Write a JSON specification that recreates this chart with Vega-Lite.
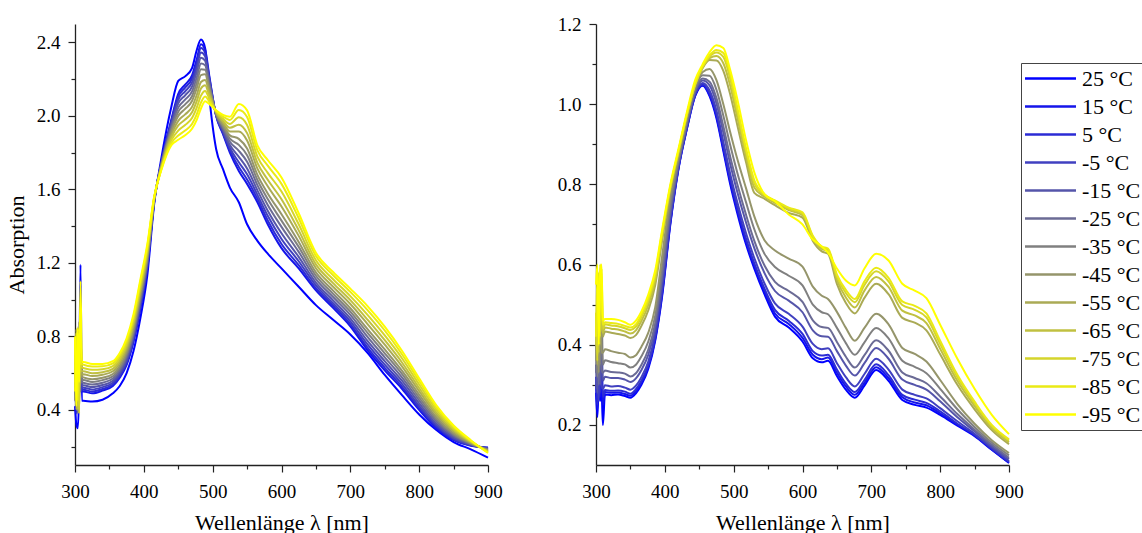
{
"$schema":"https://vega.github.io/schema/vega-lite/v6.json",
"background":"white",
"padding":{"left":5,"top":15,"right":0,"bottom":0},
"bounds":"flush",
"spacing":108,
"config":{
 "font":"Liberation Serif",
 "view":{"stroke":null},
 "axis":{"labelFont":"Liberation Serif","labelFontSize":19,"labelColor":"#000","titleFont":"Liberation Serif","titleFontSize":22,"titleFontWeight":"normal","titleColor":"#000","domainColor":"#222","domainWidth":1.3,"tickColor":"#222","tickWidth":1.2,"grid":false,"labelFlush":false,"labelOverlap":false},
 "legend":{"orient":"none","legendX":946,"legendY":39,"title":null,"symbolType":"M-2.5,0H2.5","symbolSize":416,"symbolStrokeWidth":2.5,"symbolOpacity":1,"symbolOffset":14,"labelFont":"Liberation Serif","labelFontSize":22,"labelColor":"#000","strokeColor":"#444","padding":4,"rowPadding":5,"labelOffset":20,"labelLimit":300}
},
"datasets":{
"L":[
{"T":25,"nm":300,"A":0.42},{"T":25,"nm":302,"A":0.32},{"T":25,"nm":304,"A":0.3},{"T":25,"nm":306,"A":0.5},{"T":25,"nm":308,"A":1.19},{"T":25,"nm":310,"A":0.45},{"T":25,"nm":312,"A":0.45},{"T":25,"nm":325,"A":0.445},{"T":25,"nm":340,"A":0.455},{"T":25,"nm":355,"A":0.49},{"T":25,"nm":365,"A":0.53},{"T":25,"nm":375,"A":0.6},{"T":25,"nm":385,"A":0.72},{"T":25,"nm":395,"A":0.9},{"T":25,"nm":405,"A":1.13},{"T":25,"nm":415,"A":1.52},{"T":25,"nm":425,"A":1.76},{"T":25,"nm":440,"A":2.05},{"T":25,"nm":450,"A":2.19},{"T":25,"nm":460,"A":2.215},{"T":25,"nm":470,"A":2.26},{"T":25,"nm":477,"A":2.36},{"T":25,"nm":483,"A":2.415},{"T":25,"nm":489,"A":2.37},{"T":25,"nm":495,"A":2.11},{"T":25,"nm":505,"A":1.82},{"T":25,"nm":515,"A":1.71},{"T":25,"nm":525,"A":1.61},{"T":25,"nm":538,"A":1.53},{"T":25,"nm":550,"A":1.41},{"T":25,"nm":565,"A":1.32},{"T":25,"nm":580,"A":1.25},{"T":25,"nm":600,"A":1.17},{"T":25,"nm":625,"A":1.07},{"T":25,"nm":650,"A":0.97},{"T":25,"nm":675,"A":0.89},{"T":25,"nm":700,"A":0.81},{"T":25,"nm":725,"A":0.71},{"T":25,"nm":750,"A":0.59},{"T":25,"nm":775,"A":0.48},{"T":25,"nm":800,"A":0.375},{"T":25,"nm":825,"A":0.29},{"T":25,"nm":850,"A":0.225},{"T":25,"nm":875,"A":0.185},{"T":25,"nm":900,"A":0.14},
{"T":15,"nm":300,"A":0.55},{"T":15,"nm":302,"A":0.4},{"T":15,"nm":304,"A":0.7},{"T":15,"nm":306,"A":0.45},{"T":15,"nm":308,"A":0.85},{"T":15,"nm":310,"A":0.5},{"T":15,"nm":312,"A":0.5},{"T":15,"nm":325,"A":0.49},{"T":15,"nm":340,"A":0.505},{"T":15,"nm":355,"A":0.53},{"T":15,"nm":365,"A":0.575},{"T":15,"nm":375,"A":0.645},{"T":15,"nm":385,"A":0.77},{"T":15,"nm":395,"A":0.95},{"T":15,"nm":405,"A":1.17},{"T":15,"nm":415,"A":1.53},{"T":15,"nm":425,"A":1.74},{"T":15,"nm":440,"A":1.98},{"T":15,"nm":450,"A":2.12},{"T":15,"nm":460,"A":2.17},{"T":15,"nm":470,"A":2.22},{"T":15,"nm":477,"A":2.31},{"T":15,"nm":483,"A":2.39},{"T":15,"nm":489,"A":2.36},{"T":15,"nm":495,"A":2.22},{"T":15,"nm":505,"A":2.0},{"T":15,"nm":515,"A":1.9},{"T":15,"nm":525,"A":1.8},{"T":15,"nm":538,"A":1.7},{"T":15,"nm":550,"A":1.63},{"T":15,"nm":565,"A":1.53},{"T":15,"nm":580,"A":1.41},{"T":15,"nm":600,"A":1.28},{"T":15,"nm":625,"A":1.17},{"T":15,"nm":650,"A":1.05},{"T":15,"nm":675,"A":0.955},{"T":15,"nm":700,"A":0.855},{"T":15,"nm":725,"A":0.725},{"T":15,"nm":750,"A":0.615},{"T":15,"nm":775,"A":0.515},{"T":15,"nm":800,"A":0.4},{"T":15,"nm":825,"A":0.3},{"T":15,"nm":850,"A":0.235},{"T":15,"nm":875,"A":0.205},{"T":15,"nm":900,"A":0.195},
{"T":5,"nm":300,"A":0.6},{"T":5,"nm":302,"A":0.38},{"T":5,"nm":304,"A":0.75},{"T":5,"nm":306,"A":0.5},{"T":5,"nm":308,"A":0.8},{"T":5,"nm":310,"A":0.51},{"T":5,"nm":312,"A":0.51},{"T":5,"nm":325,"A":0.5},{"T":5,"nm":340,"A":0.514},{"T":5,"nm":355,"A":0.538},{"T":5,"nm":365,"A":0.583},{"T":5,"nm":375,"A":0.654},{"T":5,"nm":385,"A":0.779},{"T":5,"nm":395,"A":0.96},{"T":5,"nm":405,"A":1.178},{"T":5,"nm":415,"A":1.532},{"T":5,"nm":425,"A":1.738},{"T":5,"nm":440,"A":1.972},{"T":5,"nm":450,"A":2.105},{"T":5,"nm":460,"A":2.154},{"T":5,"nm":470,"A":2.203},{"T":5,"nm":477,"A":2.29},{"T":5,"nm":483,"A":2.369},{"T":5,"nm":489,"A":2.343},{"T":5,"nm":495,"A":2.211},{"T":5,"nm":505,"A":2.002},{"T":5,"nm":515,"A":1.906},{"T":5,"nm":525,"A":1.812},{"T":5,"nm":538,"A":1.722},{"T":5,"nm":550,"A":1.654},{"T":5,"nm":565,"A":1.549},{"T":5,"nm":580,"A":1.431},{"T":5,"nm":600,"A":1.303},{"T":5,"nm":625,"A":1.188},{"T":5,"nm":650,"A":1.062},{"T":5,"nm":675,"A":0.967},{"T":5,"nm":700,"A":0.867},{"T":5,"nm":725,"A":0.739},{"T":5,"nm":750,"A":0.629},{"T":5,"nm":775,"A":0.527},{"T":5,"nm":800,"A":0.41},{"T":5,"nm":825,"A":0.308},{"T":5,"nm":850,"A":0.24},{"T":5,"nm":875,"A":0.207},{"T":5,"nm":900,"A":0.193},
{"T":-5,"nm":300,"A":0.48},{"T":-5,"nm":302,"A":0.65},{"T":-5,"nm":304,"A":0.4},{"T":-5,"nm":306,"A":0.78},{"T":-5,"nm":308,"A":0.5},{"T":-5,"nm":310,"A":0.52},{"T":-5,"nm":312,"A":0.521},{"T":-5,"nm":325,"A":0.511},{"T":-5,"nm":340,"A":0.524},{"T":-5,"nm":355,"A":0.548},{"T":-5,"nm":365,"A":0.593},{"T":-5,"nm":375,"A":0.664},{"T":-5,"nm":385,"A":0.79},{"T":-5,"nm":395,"A":0.971},{"T":-5,"nm":405,"A":1.187},{"T":-5,"nm":415,"A":1.534},{"T":-5,"nm":425,"A":1.735},{"T":-5,"nm":440,"A":1.962},{"T":-5,"nm":450,"A":2.088},{"T":-5,"nm":460,"A":2.134},{"T":-5,"nm":470,"A":2.182},{"T":-5,"nm":477,"A":2.267},{"T":-5,"nm":483,"A":2.345},{"T":-5,"nm":489,"A":2.324},{"T":-5,"nm":495,"A":2.2},{"T":-5,"nm":505,"A":2.004},{"T":-5,"nm":515,"A":1.914},{"T":-5,"nm":525,"A":1.825},{"T":-5,"nm":538,"A":1.748},{"T":-5,"nm":550,"A":1.682},{"T":-5,"nm":565,"A":1.57},{"T":-5,"nm":580,"A":1.456},{"T":-5,"nm":600,"A":1.33},{"T":-5,"nm":625,"A":1.209},{"T":-5,"nm":650,"A":1.077},{"T":-5,"nm":675,"A":0.98},{"T":-5,"nm":700,"A":0.882},{"T":-5,"nm":725,"A":0.756},{"T":-5,"nm":750,"A":0.646},{"T":-5,"nm":775,"A":0.542},{"T":-5,"nm":800,"A":0.422},{"T":-5,"nm":825,"A":0.316},{"T":-5,"nm":850,"A":0.245},{"T":-5,"nm":875,"A":0.209},{"T":-5,"nm":900,"A":0.191},
{"T":-15,"nm":300,"A":0.62},{"T":-15,"nm":302,"A":0.42},{"T":-15,"nm":304,"A":0.8},{"T":-15,"nm":306,"A":0.48},{"T":-15,"nm":308,"A":0.85},{"T":-15,"nm":310,"A":0.53},{"T":-15,"nm":312,"A":0.534},{"T":-15,"nm":325,"A":0.524},{"T":-15,"nm":340,"A":0.535},{"T":-15,"nm":355,"A":0.558},{"T":-15,"nm":365,"A":0.603},{"T":-15,"nm":375,"A":0.676},{"T":-15,"nm":385,"A":0.802},{"T":-15,"nm":395,"A":0.984},{"T":-15,"nm":405,"A":1.197},{"T":-15,"nm":415,"A":1.536},{"T":-15,"nm":425,"A":1.732},{"T":-15,"nm":440,"A":1.951},{"T":-15,"nm":450,"A":2.068},{"T":-15,"nm":460,"A":2.112},{"T":-15,"nm":470,"A":2.159},{"T":-15,"nm":477,"A":2.241},{"T":-15,"nm":483,"A":2.317},{"T":-15,"nm":489,"A":2.301},{"T":-15,"nm":495,"A":2.187},{"T":-15,"nm":505,"A":2.006},{"T":-15,"nm":515,"A":1.922},{"T":-15,"nm":525,"A":1.841},{"T":-15,"nm":538,"A":1.777},{"T":-15,"nm":550,"A":1.714},{"T":-15,"nm":565,"A":1.595},{"T":-15,"nm":580,"A":1.484},{"T":-15,"nm":600,"A":1.361},{"T":-15,"nm":625,"A":1.233},{"T":-15,"nm":650,"A":1.093},{"T":-15,"nm":675,"A":0.996},{"T":-15,"nm":700,"A":0.898},{"T":-15,"nm":725,"A":0.775},{"T":-15,"nm":750,"A":0.665},{"T":-15,"nm":775,"A":0.559},{"T":-15,"nm":800,"A":0.436},{"T":-15,"nm":825,"A":0.326},{"T":-15,"nm":850,"A":0.252},{"T":-15,"nm":875,"A":0.211},{"T":-15,"nm":900,"A":0.189},
{"T":-25,"nm":300,"A":0.5},{"T":-25,"nm":302,"A":0.72},{"T":-25,"nm":304,"A":0.38},{"T":-25,"nm":306,"A":0.83},{"T":-25,"nm":308,"A":0.55},{"T":-25,"nm":310,"A":0.55},{"T":-25,"nm":312,"A":0.548},{"T":-25,"nm":325,"A":0.538},{"T":-25,"nm":340,"A":0.548},{"T":-25,"nm":355,"A":0.571},{"T":-25,"nm":365,"A":0.616},{"T":-25,"nm":375,"A":0.689},{"T":-25,"nm":385,"A":0.815},{"T":-25,"nm":395,"A":0.998},{"T":-25,"nm":405,"A":1.209},{"T":-25,"nm":415,"A":1.539},{"T":-25,"nm":425,"A":1.728},{"T":-25,"nm":440,"A":1.938},{"T":-25,"nm":450,"A":2.045},{"T":-25,"nm":460,"A":2.088},{"T":-25,"nm":470,"A":2.133},{"T":-25,"nm":477,"A":2.211},{"T":-25,"nm":483,"A":2.285},{"T":-25,"nm":489,"A":2.276},{"T":-25,"nm":495,"A":2.174},{"T":-25,"nm":505,"A":2.009},{"T":-25,"nm":515,"A":1.932},{"T":-25,"nm":525,"A":1.859},{"T":-25,"nm":538,"A":1.81},{"T":-25,"nm":550,"A":1.75},{"T":-25,"nm":565,"A":1.623},{"T":-25,"nm":580,"A":1.515},{"T":-25,"nm":600,"A":1.396},{"T":-25,"nm":625,"A":1.26},{"T":-25,"nm":650,"A":1.112},{"T":-25,"nm":675,"A":1.014},{"T":-25,"nm":700,"A":0.917},{"T":-25,"nm":725,"A":0.797},{"T":-25,"nm":750,"A":0.686},{"T":-25,"nm":775,"A":0.577},{"T":-25,"nm":800,"A":0.452},{"T":-25,"nm":825,"A":0.338},{"T":-25,"nm":850,"A":0.259},{"T":-25,"nm":875,"A":0.214},{"T":-25,"nm":900,"A":0.186},
{"T":-35,"nm":300,"A":0.66},{"T":-35,"nm":302,"A":0.45},{"T":-35,"nm":304,"A":0.78},{"T":-35,"nm":306,"A":0.4},{"T":-35,"nm":308,"A":0.8},{"T":-35,"nm":310,"A":0.56},{"T":-35,"nm":312,"A":0.562},{"T":-35,"nm":325,"A":0.552},{"T":-35,"nm":340,"A":0.562},{"T":-35,"nm":355,"A":0.583},{"T":-35,"nm":365,"A":0.628},{"T":-35,"nm":375,"A":0.702},{"T":-35,"nm":385,"A":0.829},{"T":-35,"nm":395,"A":1.012},{"T":-35,"nm":405,"A":1.221},{"T":-35,"nm":415,"A":1.542},{"T":-35,"nm":425,"A":1.724},{"T":-35,"nm":440,"A":1.925},{"T":-35,"nm":450,"A":2.023},{"T":-35,"nm":460,"A":2.063},{"T":-35,"nm":470,"A":2.107},{"T":-35,"nm":477,"A":2.181},{"T":-35,"nm":483,"A":2.254},{"T":-35,"nm":489,"A":2.251},{"T":-35,"nm":495,"A":2.16},{"T":-35,"nm":505,"A":2.012},{"T":-35,"nm":515,"A":1.941},{"T":-35,"nm":525,"A":1.876},{"T":-35,"nm":538,"A":1.842},{"T":-35,"nm":550,"A":1.786},{"T":-35,"nm":565,"A":1.651},{"T":-35,"nm":580,"A":1.547},{"T":-35,"nm":600,"A":1.43},{"T":-35,"nm":625,"A":1.287},{"T":-35,"nm":650,"A":1.13},{"T":-35,"nm":675,"A":1.031},{"T":-35,"nm":700,"A":0.935},{"T":-35,"nm":725,"A":0.819},{"T":-35,"nm":750,"A":0.708},{"T":-35,"nm":775,"A":0.596},{"T":-35,"nm":800,"A":0.467},{"T":-35,"nm":825,"A":0.349},{"T":-35,"nm":850,"A":0.266},{"T":-35,"nm":875,"A":0.217},{"T":-35,"nm":900,"A":0.183},
{"T":-45,"nm":300,"A":0.45},{"T":-45,"nm":302,"A":0.8},{"T":-45,"nm":304,"A":0.42},{"T":-45,"nm":306,"A":0.88},{"T":-45,"nm":308,"A":0.6},{"T":-45,"nm":310,"A":0.58},{"T":-45,"nm":312,"A":0.577},{"T":-45,"nm":325,"A":0.567},{"T":-45,"nm":340,"A":0.575},{"T":-45,"nm":355,"A":0.595},{"T":-45,"nm":365,"A":0.64},{"T":-45,"nm":375,"A":0.715},{"T":-45,"nm":385,"A":0.842},{"T":-45,"nm":395,"A":1.027},{"T":-45,"nm":405,"A":1.232},{"T":-45,"nm":415,"A":1.544},{"T":-45,"nm":425,"A":1.721},{"T":-45,"nm":440,"A":1.913},{"T":-45,"nm":450,"A":2.0},{"T":-45,"nm":460,"A":2.038},{"T":-45,"nm":470,"A":2.081},{"T":-45,"nm":477,"A":2.152},{"T":-45,"nm":483,"A":2.222},{"T":-45,"nm":489,"A":2.226},{"T":-45,"nm":495,"A":2.146},{"T":-45,"nm":505,"A":2.014},{"T":-45,"nm":515,"A":1.95},{"T":-45,"nm":525,"A":1.894},{"T":-45,"nm":538,"A":1.875},{"T":-45,"nm":550,"A":1.822},{"T":-45,"nm":565,"A":1.679},{"T":-45,"nm":580,"A":1.578},{"T":-45,"nm":600,"A":1.465},{"T":-45,"nm":625,"A":1.314},{"T":-45,"nm":650,"A":1.148},{"T":-45,"nm":675,"A":1.049},{"T":-45,"nm":700,"A":0.953},{"T":-45,"nm":725,"A":0.84},{"T":-45,"nm":750,"A":0.729},{"T":-45,"nm":775,"A":0.614},{"T":-45,"nm":800,"A":0.483},{"T":-45,"nm":825,"A":0.36},{"T":-45,"nm":850,"A":0.273},{"T":-45,"nm":875,"A":0.219},{"T":-45,"nm":900,"A":0.181},
{"T":-55,"nm":300,"A":0.7},{"T":-55,"nm":302,"A":0.4},{"T":-55,"nm":304,"A":0.82},{"T":-55,"nm":306,"A":0.5},{"T":-55,"nm":308,"A":0.75},{"T":-55,"nm":310,"A":0.59},{"T":-55,"nm":312,"A":0.594},{"T":-55,"nm":325,"A":0.584},{"T":-55,"nm":340,"A":0.591},{"T":-55,"nm":355,"A":0.61},{"T":-55,"nm":365,"A":0.655},{"T":-55,"nm":375,"A":0.731},{"T":-55,"nm":385,"A":0.859},{"T":-55,"nm":395,"A":1.044},{"T":-55,"nm":405,"A":1.247},{"T":-55,"nm":415,"A":1.548},{"T":-55,"nm":425,"A":1.716},{"T":-55,"nm":440,"A":1.897},{"T":-55,"nm":450,"A":1.973},{"T":-55,"nm":460,"A":2.008},{"T":-55,"nm":470,"A":2.049},{"T":-55,"nm":477,"A":2.115},{"T":-55,"nm":483,"A":2.184},{"T":-55,"nm":489,"A":2.195},{"T":-55,"nm":495,"A":2.129},{"T":-55,"nm":505,"A":2.018},{"T":-55,"nm":515,"A":1.962},{"T":-55,"nm":525,"A":1.915},{"T":-55,"nm":538,"A":1.915},{"T":-55,"nm":550,"A":1.866},{"T":-55,"nm":565,"A":1.713},{"T":-55,"nm":580,"A":1.617},{"T":-55,"nm":600,"A":1.507},{"T":-55,"nm":625,"A":1.347},{"T":-55,"nm":650,"A":1.171},{"T":-55,"nm":675,"A":1.07},{"T":-55,"nm":700,"A":0.976},{"T":-55,"nm":725,"A":0.867},{"T":-55,"nm":750,"A":0.755},{"T":-55,"nm":775,"A":0.637},{"T":-55,"nm":800,"A":0.502},{"T":-55,"nm":825,"A":0.374},{"T":-55,"nm":850,"A":0.282},{"T":-55,"nm":875,"A":0.223},{"T":-55,"nm":900,"A":0.177},
{"T":-65,"nm":300,"A":0.55},{"T":-65,"nm":302,"A":0.84},{"T":-65,"nm":304,"A":0.4},{"T":-65,"nm":306,"A":0.8},{"T":-65,"nm":308,"A":0.62},{"T":-65,"nm":310,"A":0.61},{"T":-65,"nm":312,"A":0.61},{"T":-65,"nm":325,"A":0.6},{"T":-65,"nm":340,"A":0.605},{"T":-65,"nm":355,"A":0.623},{"T":-65,"nm":365,"A":0.668},{"T":-65,"nm":375,"A":0.745},{"T":-65,"nm":385,"A":0.874},{"T":-65,"nm":395,"A":1.06},{"T":-65,"nm":405,"A":1.26},{"T":-65,"nm":415,"A":1.551},{"T":-65,"nm":425,"A":1.712},{"T":-65,"nm":440,"A":1.883},{"T":-65,"nm":450,"A":1.948},{"T":-65,"nm":460,"A":1.98},{"T":-65,"nm":470,"A":2.02},{"T":-65,"nm":477,"A":2.082},{"T":-65,"nm":483,"A":2.149},{"T":-65,"nm":489,"A":2.167},{"T":-65,"nm":495,"A":2.113},{"T":-65,"nm":505,"A":2.021},{"T":-65,"nm":515,"A":1.972},{"T":-65,"nm":525,"A":1.935},{"T":-65,"nm":538,"A":1.952},{"T":-65,"nm":550,"A":1.906},{"T":-65,"nm":565,"A":1.744},{"T":-65,"nm":580,"A":1.652},{"T":-65,"nm":600,"A":1.546},{"T":-65,"nm":625,"A":1.377},{"T":-65,"nm":650,"A":1.192},{"T":-65,"nm":675,"A":1.09},{"T":-65,"nm":700,"A":0.997},{"T":-65,"nm":725,"A":0.891},{"T":-65,"nm":750,"A":0.779},{"T":-65,"nm":775,"A":0.658},{"T":-65,"nm":800,"A":0.519},{"T":-65,"nm":825,"A":0.386},{"T":-65,"nm":850,"A":0.29},{"T":-65,"nm":875,"A":0.226},{"T":-65,"nm":900,"A":0.174},
{"T":-75,"nm":300,"A":0.78},{"T":-75,"nm":302,"A":0.43},{"T":-75,"nm":304,"A":0.85},{"T":-75,"nm":306,"A":0.38},{"T":-75,"nm":308,"A":0.9},{"T":-75,"nm":310,"A":0.63},{"T":-75,"nm":312,"A":0.628},{"T":-75,"nm":325,"A":0.618},{"T":-75,"nm":340,"A":0.621},{"T":-75,"nm":355,"A":0.638},{"T":-75,"nm":365,"A":0.683},{"T":-75,"nm":375,"A":0.761},{"T":-75,"nm":385,"A":0.89},{"T":-75,"nm":395,"A":1.078},{"T":-75,"nm":405,"A":1.274},{"T":-75,"nm":415,"A":1.554},{"T":-75,"nm":425,"A":1.708},{"T":-75,"nm":440,"A":1.868},{"T":-75,"nm":450,"A":1.92},{"T":-75,"nm":460,"A":1.95},{"T":-75,"nm":470,"A":1.988},{"T":-75,"nm":477,"A":2.046},{"T":-75,"nm":483,"A":2.11},{"T":-75,"nm":489,"A":2.136},{"T":-75,"nm":495,"A":2.096},{"T":-75,"nm":505,"A":2.024},{"T":-75,"nm":515,"A":1.984},{"T":-75,"nm":525,"A":1.956},{"T":-75,"nm":538,"A":1.992},{"T":-75,"nm":550,"A":1.95},{"T":-75,"nm":565,"A":1.778},{"T":-75,"nm":580,"A":1.69},{"T":-75,"nm":600,"A":1.588},{"T":-75,"nm":625,"A":1.41},{"T":-75,"nm":650,"A":1.214},{"T":-75,"nm":675,"A":1.111},{"T":-75,"nm":700,"A":1.019},{"T":-75,"nm":725,"A":0.917},{"T":-75,"nm":750,"A":0.805},{"T":-75,"nm":775,"A":0.681},{"T":-75,"nm":800,"A":0.538},{"T":-75,"nm":825,"A":0.4},{"T":-75,"nm":850,"A":0.299},{"T":-75,"nm":875,"A":0.229},{"T":-75,"nm":900,"A":0.171},
{"T":-85,"nm":300,"A":0.5},{"T":-85,"nm":302,"A":0.82},{"T":-85,"nm":304,"A":0.45},{"T":-85,"nm":306,"A":0.75},{"T":-85,"nm":308,"A":0.65},{"T":-85,"nm":310,"A":0.65},{"T":-85,"nm":312,"A":0.646},{"T":-85,"nm":325,"A":0.636},{"T":-85,"nm":340,"A":0.637},{"T":-85,"nm":355,"A":0.653},{"T":-85,"nm":365,"A":0.698},{"T":-85,"nm":375,"A":0.777},{"T":-85,"nm":385,"A":0.907},{"T":-85,"nm":395,"A":1.096},{"T":-85,"nm":405,"A":1.288},{"T":-85,"nm":415,"A":1.557},{"T":-85,"nm":425,"A":1.704},{"T":-85,"nm":440,"A":1.853},{"T":-85,"nm":450,"A":1.893},{"T":-85,"nm":460,"A":1.92},{"T":-85,"nm":470,"A":1.956},{"T":-85,"nm":477,"A":2.01},{"T":-85,"nm":483,"A":2.072},{"T":-85,"nm":489,"A":2.105},{"T":-85,"nm":495,"A":2.079},{"T":-85,"nm":505,"A":2.027},{"T":-85,"nm":515,"A":1.996},{"T":-85,"nm":525,"A":1.978},{"T":-85,"nm":538,"A":2.032},{"T":-85,"nm":550,"A":1.994},{"T":-85,"nm":565,"A":1.812},{"T":-85,"nm":580,"A":1.729},{"T":-85,"nm":600,"A":1.63},{"T":-85,"nm":625,"A":1.443},{"T":-85,"nm":650,"A":1.237},{"T":-85,"nm":675,"A":1.133},{"T":-85,"nm":700,"A":1.042},{"T":-85,"nm":725,"A":0.943},{"T":-85,"nm":750,"A":0.832},{"T":-85,"nm":775,"A":0.703},{"T":-85,"nm":800,"A":0.557},{"T":-85,"nm":825,"A":0.414},{"T":-85,"nm":850,"A":0.308},{"T":-85,"nm":875,"A":0.232},{"T":-85,"nm":900,"A":0.168},
{"T":-95,"nm":300,"A":0.8},{"T":-95,"nm":302,"A":0.42},{"T":-95,"nm":304,"A":0.84},{"T":-95,"nm":306,"A":0.55},{"T":-95,"nm":308,"A":1.1},{"T":-95,"nm":310,"A":0.66},{"T":-95,"nm":312,"A":0.66},{"T":-95,"nm":325,"A":0.65},{"T":-95,"nm":340,"A":0.65},{"T":-95,"nm":355,"A":0.665},{"T":-95,"nm":365,"A":0.71},{"T":-95,"nm":375,"A":0.79},{"T":-95,"nm":385,"A":0.92},{"T":-95,"nm":395,"A":1.11},{"T":-95,"nm":405,"A":1.3},{"T":-95,"nm":415,"A":1.56},{"T":-95,"nm":425,"A":1.7},{"T":-95,"nm":440,"A":1.84},{"T":-95,"nm":450,"A":1.87},{"T":-95,"nm":460,"A":1.895},{"T":-95,"nm":470,"A":1.93},{"T":-95,"nm":477,"A":1.98},{"T":-95,"nm":483,"A":2.04},{"T":-95,"nm":489,"A":2.08},{"T":-95,"nm":495,"A":2.065},{"T":-95,"nm":505,"A":2.03},{"T":-95,"nm":515,"A":2.005},{"T":-95,"nm":525,"A":1.995},{"T":-95,"nm":538,"A":2.065},{"T":-95,"nm":550,"A":2.03},{"T":-95,"nm":565,"A":1.84},{"T":-95,"nm":580,"A":1.76},{"T":-95,"nm":600,"A":1.665},{"T":-95,"nm":625,"A":1.47},{"T":-95,"nm":650,"A":1.255},{"T":-95,"nm":675,"A":1.15},{"T":-95,"nm":700,"A":1.06},{"T":-95,"nm":725,"A":0.965},{"T":-95,"nm":750,"A":0.853},{"T":-95,"nm":775,"A":0.722},{"T":-95,"nm":800,"A":0.572},{"T":-95,"nm":825,"A":0.425},{"T":-95,"nm":850,"A":0.315},{"T":-95,"nm":875,"A":0.235},{"T":-95,"nm":900,"A":0.165}
],
"R":[
{"T":25,"nm":300,"A":0.28},{"T":25,"nm":302,"A":0.22},{"T":25,"nm":304,"A":0.3},{"T":25,"nm":306,"A":0.26},{"T":25,"nm":308,"A":0.29},{"T":25,"nm":310,"A":0.2},{"T":25,"nm":313,"A":0.276},{"T":25,"nm":322,"A":0.274},{"T":25,"nm":332,"A":0.276},{"T":25,"nm":342,"A":0.272},{"T":25,"nm":350,"A":0.268},{"T":25,"nm":358,"A":0.279},{"T":25,"nm":366,"A":0.3},{"T":25,"nm":376,"A":0.34},{"T":25,"nm":386,"A":0.41},{"T":25,"nm":396,"A":0.52},{"T":25,"nm":408,"A":0.7},{"T":25,"nm":420,"A":0.84},{"T":25,"nm":432,"A":0.938},{"T":25,"nm":444,"A":1.02},{"T":25,"nm":455,"A":1.046},{"T":25,"nm":465,"A":1.02},{"T":25,"nm":475,"A":0.965},{"T":25,"nm":485,"A":0.883},{"T":25,"nm":495,"A":0.8},{"T":25,"nm":505,"A":0.73},{"T":25,"nm":518,"A":0.65},{"T":25,"nm":530,"A":0.59},{"T":25,"nm":545,"A":0.525},{"T":25,"nm":560,"A":0.47},{"T":25,"nm":580,"A":0.443},{"T":25,"nm":600,"A":0.408},{"T":25,"nm":615,"A":0.366},{"T":25,"nm":628,"A":0.356},{"T":25,"nm":637,"A":0.36},{"T":25,"nm":650,"A":0.322},{"T":25,"nm":663,"A":0.288},{"T":25,"nm":676,"A":0.268},{"T":25,"nm":690,"A":0.298},{"T":25,"nm":707,"A":0.337},{"T":25,"nm":725,"A":0.31},{"T":25,"nm":745,"A":0.262},{"T":25,"nm":763,"A":0.25},{"T":25,"nm":780,"A":0.243},{"T":25,"nm":800,"A":0.225},{"T":25,"nm":825,"A":0.198},{"T":25,"nm":850,"A":0.172},{"T":25,"nm":875,"A":0.138},{"T":25,"nm":900,"A":0.105},
{"T":15,"nm":300,"A":0.3},{"T":15,"nm":302,"A":0.24},{"T":15,"nm":304,"A":0.33},{"T":15,"nm":306,"A":0.27},{"T":15,"nm":308,"A":0.35},{"T":15,"nm":310,"A":0.25},{"T":15,"nm":313,"A":0.282},{"T":15,"nm":322,"A":0.28},{"T":15,"nm":332,"A":0.281},{"T":15,"nm":342,"A":0.277},{"T":15,"nm":350,"A":0.273},{"T":15,"nm":358,"A":0.284},{"T":15,"nm":366,"A":0.305},{"T":15,"nm":376,"A":0.345},{"T":15,"nm":386,"A":0.414},{"T":15,"nm":396,"A":0.525},{"T":15,"nm":408,"A":0.704},{"T":15,"nm":420,"A":0.842},{"T":15,"nm":432,"A":0.939},{"T":15,"nm":444,"A":1.021},{"T":15,"nm":455,"A":1.048},{"T":15,"nm":465,"A":1.023},{"T":15,"nm":475,"A":0.97},{"T":15,"nm":485,"A":0.889},{"T":15,"nm":495,"A":0.807},{"T":15,"nm":505,"A":0.737},{"T":15,"nm":518,"A":0.657},{"T":15,"nm":530,"A":0.597},{"T":15,"nm":545,"A":0.532},{"T":15,"nm":560,"A":0.478},{"T":15,"nm":580,"A":0.452},{"T":15,"nm":600,"A":0.417},{"T":15,"nm":615,"A":0.375},{"T":15,"nm":628,"A":0.364},{"T":15,"nm":637,"A":0.368},{"T":15,"nm":650,"A":0.33},{"T":15,"nm":663,"A":0.296},{"T":15,"nm":676,"A":0.275},{"T":15,"nm":690,"A":0.305},{"T":15,"nm":707,"A":0.344},{"T":15,"nm":725,"A":0.317},{"T":15,"nm":745,"A":0.269},{"T":15,"nm":763,"A":0.256},{"T":15,"nm":780,"A":0.249},{"T":15,"nm":800,"A":0.229},{"T":15,"nm":825,"A":0.201},{"T":15,"nm":850,"A":0.174},{"T":15,"nm":875,"A":0.139},{"T":15,"nm":900,"A":0.106},
{"T":5,"nm":300,"A":0.32},{"T":5,"nm":302,"A":0.25},{"T":5,"nm":304,"A":0.36},{"T":5,"nm":306,"A":0.28},{"T":5,"nm":308,"A":0.38},{"T":5,"nm":310,"A":0.27},{"T":5,"nm":313,"A":0.287},{"T":5,"nm":322,"A":0.285},{"T":5,"nm":332,"A":0.286},{"T":5,"nm":342,"A":0.283},{"T":5,"nm":350,"A":0.278},{"T":5,"nm":358,"A":0.289},{"T":5,"nm":366,"A":0.31},{"T":5,"nm":376,"A":0.349},{"T":5,"nm":386,"A":0.418},{"T":5,"nm":396,"A":0.53},{"T":5,"nm":408,"A":0.707},{"T":5,"nm":420,"A":0.843},{"T":5,"nm":432,"A":0.941},{"T":5,"nm":444,"A":1.023},{"T":5,"nm":455,"A":1.049},{"T":5,"nm":465,"A":1.027},{"T":5,"nm":475,"A":0.975},{"T":5,"nm":485,"A":0.895},{"T":5,"nm":495,"A":0.813},{"T":5,"nm":505,"A":0.744},{"T":5,"nm":518,"A":0.664},{"T":5,"nm":530,"A":0.603},{"T":5,"nm":545,"A":0.539},{"T":5,"nm":560,"A":0.487},{"T":5,"nm":580,"A":0.46},{"T":5,"nm":600,"A":0.427},{"T":5,"nm":615,"A":0.384},{"T":5,"nm":628,"A":0.373},{"T":5,"nm":637,"A":0.375},{"T":5,"nm":650,"A":0.338},{"T":5,"nm":663,"A":0.303},{"T":5,"nm":676,"A":0.282},{"T":5,"nm":690,"A":0.312},{"T":5,"nm":707,"A":0.351},{"T":5,"nm":725,"A":0.324},{"T":5,"nm":745,"A":0.275},{"T":5,"nm":763,"A":0.263},{"T":5,"nm":780,"A":0.255},{"T":5,"nm":800,"A":0.234},{"T":5,"nm":825,"A":0.203},{"T":5,"nm":850,"A":0.175},{"T":5,"nm":875,"A":0.14},{"T":5,"nm":900,"A":0.108},
{"T":-5,"nm":300,"A":0.29},{"T":-5,"nm":302,"A":0.33},{"T":-5,"nm":304,"A":0.26},{"T":-5,"nm":306,"A":0.38},{"T":-5,"nm":308,"A":0.3},{"T":-5,"nm":310,"A":0.29},{"T":-5,"nm":313,"A":0.299},{"T":-5,"nm":322,"A":0.296},{"T":-5,"nm":332,"A":0.297},{"T":-5,"nm":342,"A":0.293},{"T":-5,"nm":350,"A":0.288},{"T":-5,"nm":358,"A":0.298},{"T":-5,"nm":366,"A":0.319},{"T":-5,"nm":376,"A":0.358},{"T":-5,"nm":386,"A":0.427},{"T":-5,"nm":396,"A":0.54},{"T":-5,"nm":408,"A":0.714},{"T":-5,"nm":420,"A":0.846},{"T":-5,"nm":432,"A":0.943},{"T":-5,"nm":444,"A":1.025},{"T":-5,"nm":455,"A":1.053},{"T":-5,"nm":465,"A":1.034},{"T":-5,"nm":475,"A":0.984},{"T":-5,"nm":485,"A":0.906},{"T":-5,"nm":495,"A":0.826},{"T":-5,"nm":505,"A":0.757},{"T":-5,"nm":518,"A":0.678},{"T":-5,"nm":530,"A":0.616},{"T":-5,"nm":545,"A":0.552},{"T":-5,"nm":560,"A":0.503},{"T":-5,"nm":580,"A":0.477},{"T":-5,"nm":600,"A":0.445},{"T":-5,"nm":615,"A":0.402},{"T":-5,"nm":628,"A":0.389},{"T":-5,"nm":637,"A":0.391},{"T":-5,"nm":650,"A":0.354},{"T":-5,"nm":663,"A":0.319},{"T":-5,"nm":676,"A":0.296},{"T":-5,"nm":690,"A":0.327},{"T":-5,"nm":707,"A":0.365},{"T":-5,"nm":725,"A":0.338},{"T":-5,"nm":745,"A":0.288},{"T":-5,"nm":763,"A":0.275},{"T":-5,"nm":780,"A":0.266},{"T":-5,"nm":800,"A":0.242},{"T":-5,"nm":825,"A":0.209},{"T":-5,"nm":850,"A":0.178},{"T":-5,"nm":875,"A":0.143},{"T":-5,"nm":900,"A":0.11},
{"T":-15,"nm":300,"A":0.35},{"T":-15,"nm":302,"A":0.28},{"T":-15,"nm":304,"A":0.4},{"T":-15,"nm":306,"A":0.3},{"T":-15,"nm":308,"A":0.42},{"T":-15,"nm":310,"A":0.31},{"T":-15,"nm":313,"A":0.32},{"T":-15,"nm":322,"A":0.317},{"T":-15,"nm":332,"A":0.317},{"T":-15,"nm":342,"A":0.313},{"T":-15,"nm":350,"A":0.307},{"T":-15,"nm":358,"A":0.316},{"T":-15,"nm":366,"A":0.337},{"T":-15,"nm":376,"A":0.375},{"T":-15,"nm":386,"A":0.442},{"T":-15,"nm":396,"A":0.559},{"T":-15,"nm":408,"A":0.727},{"T":-15,"nm":420,"A":0.852},{"T":-15,"nm":432,"A":0.949},{"T":-15,"nm":444,"A":1.03},{"T":-15,"nm":455,"A":1.059},{"T":-15,"nm":465,"A":1.047},{"T":-15,"nm":475,"A":1.002},{"T":-15,"nm":485,"A":0.929},{"T":-15,"nm":495,"A":0.851},{"T":-15,"nm":505,"A":0.783},{"T":-15,"nm":518,"A":0.705},{"T":-15,"nm":530,"A":0.641},{"T":-15,"nm":545,"A":0.578},{"T":-15,"nm":560,"A":0.534},{"T":-15,"nm":580,"A":0.51},{"T":-15,"nm":600,"A":0.481},{"T":-15,"nm":615,"A":0.436},{"T":-15,"nm":628,"A":0.421},{"T":-15,"nm":637,"A":0.42},{"T":-15,"nm":650,"A":0.384},{"T":-15,"nm":663,"A":0.348},{"T":-15,"nm":676,"A":0.323},{"T":-15,"nm":690,"A":0.354},{"T":-15,"nm":707,"A":0.392},{"T":-15,"nm":725,"A":0.365},{"T":-15,"nm":745,"A":0.313},{"T":-15,"nm":763,"A":0.3},{"T":-15,"nm":780,"A":0.288},{"T":-15,"nm":800,"A":0.259},{"T":-15,"nm":825,"A":0.219},{"T":-15,"nm":850,"A":0.184},{"T":-15,"nm":875,"A":0.147},{"T":-15,"nm":900,"A":0.115},
{"T":-25,"nm":300,"A":0.33},{"T":-25,"nm":302,"A":0.4},{"T":-25,"nm":304,"A":0.3},{"T":-25,"nm":306,"A":0.45},{"T":-25,"nm":308,"A":0.34},{"T":-25,"nm":310,"A":0.33},{"T":-25,"nm":313,"A":0.336},{"T":-25,"nm":322,"A":0.332},{"T":-25,"nm":332,"A":0.331},{"T":-25,"nm":342,"A":0.328},{"T":-25,"nm":350,"A":0.321},{"T":-25,"nm":358,"A":0.329},{"T":-25,"nm":366,"A":0.35},{"T":-25,"nm":376,"A":0.388},{"T":-25,"nm":386,"A":0.454},{"T":-25,"nm":396,"A":0.573},{"T":-25,"nm":408,"A":0.737},{"T":-25,"nm":420,"A":0.856},{"T":-25,"nm":432,"A":0.952},{"T":-25,"nm":444,"A":1.033},{"T":-25,"nm":455,"A":1.064},{"T":-25,"nm":465,"A":1.056},{"T":-25,"nm":475,"A":1.015},{"T":-25,"nm":485,"A":0.945},{"T":-25,"nm":495,"A":0.869},{"T":-25,"nm":505,"A":0.802},{"T":-25,"nm":518,"A":0.724},{"T":-25,"nm":530,"A":0.659},{"T":-25,"nm":545,"A":0.597},{"T":-25,"nm":560,"A":0.557},{"T":-25,"nm":580,"A":0.534},{"T":-25,"nm":600,"A":0.507},{"T":-25,"nm":615,"A":0.461},{"T":-25,"nm":628,"A":0.444},{"T":-25,"nm":637,"A":0.442},{"T":-25,"nm":650,"A":0.407},{"T":-25,"nm":663,"A":0.37},{"T":-25,"nm":676,"A":0.343},{"T":-25,"nm":690,"A":0.374},{"T":-25,"nm":707,"A":0.411},{"T":-25,"nm":725,"A":0.385},{"T":-25,"nm":745,"A":0.331},{"T":-25,"nm":763,"A":0.317},{"T":-25,"nm":780,"A":0.304},{"T":-25,"nm":800,"A":0.271},{"T":-25,"nm":825,"A":0.227},{"T":-25,"nm":850,"A":0.188},{"T":-25,"nm":875,"A":0.151},{"T":-25,"nm":900,"A":0.118},
{"T":-35,"nm":300,"A":0.4},{"T":-35,"nm":302,"A":0.32},{"T":-35,"nm":304,"A":0.48},{"T":-35,"nm":306,"A":0.35},{"T":-35,"nm":308,"A":0.5},{"T":-35,"nm":310,"A":0.35},{"T":-35,"nm":313,"A":0.361},{"T":-35,"nm":322,"A":0.357},{"T":-35,"nm":332,"A":0.354},{"T":-35,"nm":342,"A":0.351},{"T":-35,"nm":350,"A":0.343},{"T":-35,"nm":358,"A":0.35},{"T":-35,"nm":366,"A":0.371},{"T":-35,"nm":376,"A":0.408},{"T":-35,"nm":386,"A":0.472},{"T":-35,"nm":396,"A":0.595},{"T":-35,"nm":408,"A":0.753},{"T":-35,"nm":420,"A":0.863},{"T":-35,"nm":432,"A":0.958},{"T":-35,"nm":444,"A":1.039},{"T":-35,"nm":455,"A":1.072},{"T":-35,"nm":465,"A":1.071},{"T":-35,"nm":475,"A":1.036},{"T":-35,"nm":485,"A":0.971},{"T":-35,"nm":495,"A":0.898},{"T":-35,"nm":505,"A":0.831},{"T":-35,"nm":518,"A":0.755},{"T":-35,"nm":530,"A":0.688},{"T":-35,"nm":545,"A":0.626},{"T":-35,"nm":560,"A":0.594},{"T":-35,"nm":580,"A":0.572},{"T":-35,"nm":600,"A":0.548},{"T":-35,"nm":615,"A":0.5},{"T":-35,"nm":628,"A":0.481},{"T":-35,"nm":637,"A":0.476},{"T":-35,"nm":650,"A":0.442},{"T":-35,"nm":663,"A":0.404},{"T":-35,"nm":676,"A":0.375},{"T":-35,"nm":690,"A":0.406},{"T":-35,"nm":707,"A":0.442},{"T":-35,"nm":725,"A":0.416},{"T":-35,"nm":745,"A":0.36},{"T":-35,"nm":763,"A":0.345},{"T":-35,"nm":780,"A":0.329},{"T":-35,"nm":800,"A":0.29},{"T":-35,"nm":825,"A":0.239},{"T":-35,"nm":850,"A":0.195},{"T":-35,"nm":875,"A":0.156},{"T":-35,"nm":900,"A":0.124},
{"T":-45,"nm":300,"A":0.36},{"T":-45,"nm":302,"A":0.45},{"T":-45,"nm":304,"A":0.33},{"T":-45,"nm":306,"A":0.52},{"T":-45,"nm":308,"A":0.38},{"T":-45,"nm":310,"A":0.38},{"T":-45,"nm":313,"A":0.389},{"T":-45,"nm":322,"A":0.384},{"T":-45,"nm":332,"A":0.38},{"T":-45,"nm":342,"A":0.377},{"T":-45,"nm":350,"A":0.368},{"T":-45,"nm":358,"A":0.374},{"T":-45,"nm":366,"A":0.395},{"T":-45,"nm":376,"A":0.43},{"T":-45,"nm":386,"A":0.493},{"T":-45,"nm":396,"A":0.62},{"T":-45,"nm":408,"A":0.77},{"T":-45,"nm":420,"A":0.87},{"T":-45,"nm":432,"A":0.965},{"T":-45,"nm":444,"A":1.045},{"T":-45,"nm":455,"A":1.08},{"T":-45,"nm":465,"A":1.088},{"T":-45,"nm":475,"A":1.06},{"T":-45,"nm":485,"A":1.0},{"T":-45,"nm":495,"A":0.93},{"T":-45,"nm":505,"A":0.865},{"T":-45,"nm":518,"A":0.79},{"T":-45,"nm":530,"A":0.72},{"T":-45,"nm":545,"A":0.66},{"T":-45,"nm":560,"A":0.635},{"T":-45,"nm":580,"A":0.615},{"T":-45,"nm":600,"A":0.595},{"T":-45,"nm":615,"A":0.545},{"T":-45,"nm":628,"A":0.522},{"T":-45,"nm":637,"A":0.514},{"T":-45,"nm":650,"A":0.482},{"T":-45,"nm":663,"A":0.442},{"T":-45,"nm":676,"A":0.41},{"T":-45,"nm":690,"A":0.442},{"T":-45,"nm":707,"A":0.477},{"T":-45,"nm":725,"A":0.451},{"T":-45,"nm":745,"A":0.392},{"T":-45,"nm":763,"A":0.377},{"T":-45,"nm":780,"A":0.358},{"T":-45,"nm":800,"A":0.312},{"T":-45,"nm":825,"A":0.252},{"T":-45,"nm":850,"A":0.203},{"T":-45,"nm":875,"A":0.162},{"T":-45,"nm":900,"A":0.13},
{"T":-55,"nm":300,"A":0.44},{"T":-55,"nm":302,"A":0.35},{"T":-55,"nm":304,"A":0.55},{"T":-55,"nm":306,"A":0.4},{"T":-55,"nm":308,"A":0.56},{"T":-55,"nm":310,"A":0.42},{"T":-55,"nm":313,"A":0.433},{"T":-55,"nm":322,"A":0.43},{"T":-55,"nm":332,"A":0.427},{"T":-55,"nm":342,"A":0.423},{"T":-55,"nm":350,"A":0.417},{"T":-55,"nm":358,"A":0.424},{"T":-55,"nm":366,"A":0.447},{"T":-55,"nm":376,"A":0.486},{"T":-55,"nm":386,"A":0.548},{"T":-55,"nm":396,"A":0.659},{"T":-55,"nm":408,"A":0.786},{"T":-55,"nm":420,"A":0.88},{"T":-55,"nm":432,"A":0.972},{"T":-55,"nm":444,"A":1.048},{"T":-55,"nm":455,"A":1.09},{"T":-55,"nm":465,"A":1.11},{"T":-55,"nm":475,"A":1.109},{"T":-55,"nm":485,"A":1.083},{"T":-55,"nm":495,"A":1.024},{"T":-55,"nm":505,"A":0.95},{"T":-55,"nm":518,"A":0.855},{"T":-55,"nm":530,"A":0.779},{"T":-55,"nm":545,"A":0.764},{"T":-55,"nm":560,"A":0.748},{"T":-55,"nm":580,"A":0.729},{"T":-55,"nm":600,"A":0.717},{"T":-55,"nm":615,"A":0.659},{"T":-55,"nm":628,"A":0.633},{"T":-55,"nm":637,"A":0.627},{"T":-55,"nm":650,"A":0.552},{"T":-55,"nm":663,"A":0.504},{"T":-55,"nm":676,"A":0.478},{"T":-55,"nm":690,"A":0.517},{"T":-55,"nm":707,"A":0.552},{"T":-55,"nm":725,"A":0.526},{"T":-55,"nm":745,"A":0.467},{"T":-55,"nm":763,"A":0.455},{"T":-55,"nm":780,"A":0.436},{"T":-55,"nm":800,"A":0.376},{"T":-55,"nm":825,"A":0.3},{"T":-55,"nm":850,"A":0.239},{"T":-55,"nm":875,"A":0.187},{"T":-55,"nm":900,"A":0.152},
{"T":-65,"nm":300,"A":0.4},{"T":-65,"nm":302,"A":0.52},{"T":-65,"nm":304,"A":0.38},{"T":-65,"nm":306,"A":0.58},{"T":-65,"nm":308,"A":0.45},{"T":-65,"nm":310,"A":0.43},{"T":-65,"nm":313,"A":0.443},{"T":-65,"nm":322,"A":0.44},{"T":-65,"nm":332,"A":0.438},{"T":-65,"nm":342,"A":0.433},{"T":-65,"nm":350,"A":0.428},{"T":-65,"nm":358,"A":0.436},{"T":-65,"nm":366,"A":0.459},{"T":-65,"nm":376,"A":0.499},{"T":-65,"nm":386,"A":0.56},{"T":-65,"nm":396,"A":0.668},{"T":-65,"nm":408,"A":0.79},{"T":-65,"nm":420,"A":0.882},{"T":-65,"nm":432,"A":0.973},{"T":-65,"nm":444,"A":1.049},{"T":-65,"nm":455,"A":1.092},{"T":-65,"nm":465,"A":1.115},{"T":-65,"nm":475,"A":1.12},{"T":-65,"nm":485,"A":1.102},{"T":-65,"nm":495,"A":1.046},{"T":-65,"nm":505,"A":0.969},{"T":-65,"nm":518,"A":0.87},{"T":-65,"nm":530,"A":0.792},{"T":-65,"nm":545,"A":0.769},{"T":-65,"nm":560,"A":0.754},{"T":-65,"nm":580,"A":0.736},{"T":-65,"nm":600,"A":0.723},{"T":-65,"nm":615,"A":0.666},{"T":-65,"nm":628,"A":0.639},{"T":-65,"nm":637,"A":0.634},{"T":-65,"nm":650,"A":0.562},{"T":-65,"nm":663,"A":0.518},{"T":-65,"nm":676,"A":0.493},{"T":-65,"nm":690,"A":0.535},{"T":-65,"nm":707,"A":0.569},{"T":-65,"nm":725,"A":0.544},{"T":-65,"nm":745,"A":0.485},{"T":-65,"nm":763,"A":0.473},{"T":-65,"nm":780,"A":0.454},{"T":-65,"nm":800,"A":0.39},{"T":-65,"nm":825,"A":0.31},{"T":-65,"nm":850,"A":0.247},{"T":-65,"nm":875,"A":0.192},{"T":-65,"nm":900,"A":0.157},
{"T":-75,"nm":300,"A":0.48},{"T":-75,"nm":302,"A":0.36},{"T":-75,"nm":304,"A":0.58},{"T":-75,"nm":306,"A":0.42},{"T":-75,"nm":308,"A":0.59},{"T":-75,"nm":310,"A":0.44},{"T":-75,"nm":313,"A":0.451},{"T":-75,"nm":322,"A":0.448},{"T":-75,"nm":332,"A":0.446},{"T":-75,"nm":342,"A":0.441},{"T":-75,"nm":350,"A":0.437},{"T":-75,"nm":358,"A":0.445},{"T":-75,"nm":366,"A":0.469},{"T":-75,"nm":376,"A":0.509},{"T":-75,"nm":386,"A":0.57},{"T":-75,"nm":396,"A":0.675},{"T":-75,"nm":408,"A":0.793},{"T":-75,"nm":420,"A":0.884},{"T":-75,"nm":432,"A":0.974},{"T":-75,"nm":444,"A":1.05},{"T":-75,"nm":455,"A":1.094},{"T":-75,"nm":465,"A":1.119},{"T":-75,"nm":475,"A":1.129},{"T":-75,"nm":485,"A":1.118},{"T":-75,"nm":495,"A":1.063},{"T":-75,"nm":505,"A":0.985},{"T":-75,"nm":518,"A":0.882},{"T":-75,"nm":530,"A":0.803},{"T":-75,"nm":545,"A":0.773},{"T":-75,"nm":560,"A":0.758},{"T":-75,"nm":580,"A":0.739},{"T":-75,"nm":600,"A":0.727},{"T":-75,"nm":615,"A":0.669},{"T":-75,"nm":628,"A":0.643},{"T":-75,"nm":637,"A":0.637},{"T":-75,"nm":650,"A":0.57},{"T":-75,"nm":663,"A":0.529},{"T":-75,"nm":676,"A":0.506},{"T":-75,"nm":690,"A":0.549},{"T":-75,"nm":707,"A":0.583},{"T":-75,"nm":725,"A":0.558},{"T":-75,"nm":745,"A":0.499},{"T":-75,"nm":763,"A":0.487},{"T":-75,"nm":780,"A":0.468},{"T":-75,"nm":800,"A":0.402},{"T":-75,"nm":825,"A":0.319},{"T":-75,"nm":850,"A":0.254},{"T":-75,"nm":875,"A":0.197},{"T":-75,"nm":900,"A":0.161},
{"T":-85,"nm":300,"A":0.42},{"T":-85,"nm":302,"A":0.58},{"T":-85,"nm":304,"A":0.45},{"T":-85,"nm":306,"A":0.6},{"T":-85,"nm":308,"A":0.5},{"T":-85,"nm":310,"A":0.45},{"T":-85,"nm":313,"A":0.456},{"T":-85,"nm":322,"A":0.454},{"T":-85,"nm":332,"A":0.452},{"T":-85,"nm":342,"A":0.447},{"T":-85,"nm":350,"A":0.443},{"T":-85,"nm":358,"A":0.451},{"T":-85,"nm":366,"A":0.475},{"T":-85,"nm":376,"A":0.516},{"T":-85,"nm":386,"A":0.577},{"T":-85,"nm":396,"A":0.68},{"T":-85,"nm":408,"A":0.795},{"T":-85,"nm":420,"A":0.885},{"T":-85,"nm":432,"A":0.975},{"T":-85,"nm":444,"A":1.05},{"T":-85,"nm":455,"A":1.095},{"T":-85,"nm":465,"A":1.122},{"T":-85,"nm":475,"A":1.135},{"T":-85,"nm":485,"A":1.128},{"T":-85,"nm":495,"A":1.075},{"T":-85,"nm":505,"A":0.995},{"T":-85,"nm":518,"A":0.89},{"T":-85,"nm":530,"A":0.81},{"T":-85,"nm":545,"A":0.775},{"T":-85,"nm":560,"A":0.76},{"T":-85,"nm":580,"A":0.742},{"T":-85,"nm":600,"A":0.73},{"T":-85,"nm":615,"A":0.672},{"T":-85,"nm":628,"A":0.645},{"T":-85,"nm":637,"A":0.64},{"T":-85,"nm":650,"A":0.575},{"T":-85,"nm":663,"A":0.537},{"T":-85,"nm":676,"A":0.514},{"T":-85,"nm":690,"A":0.558},{"T":-85,"nm":707,"A":0.592},{"T":-85,"nm":725,"A":0.567},{"T":-85,"nm":745,"A":0.508},{"T":-85,"nm":763,"A":0.497},{"T":-85,"nm":780,"A":0.478},{"T":-85,"nm":800,"A":0.41},{"T":-85,"nm":825,"A":0.325},{"T":-85,"nm":850,"A":0.258},{"T":-85,"nm":875,"A":0.2},{"T":-85,"nm":900,"A":0.164},
{"T":-95,"nm":300,"A":0.55},{"T":-95,"nm":302,"A":0.6},{"T":-95,"nm":304,"A":0.4},{"T":-95,"nm":306,"A":0.58},{"T":-95,"nm":308,"A":0.6},{"T":-95,"nm":310,"A":0.46},{"T":-95,"nm":313,"A":0.464},{"T":-95,"nm":322,"A":0.464},{"T":-95,"nm":332,"A":0.462},{"T":-95,"nm":342,"A":0.456},{"T":-95,"nm":350,"A":0.45},{"T":-95,"nm":358,"A":0.46},{"T":-95,"nm":366,"A":0.483},{"T":-95,"nm":376,"A":0.525},{"T":-95,"nm":386,"A":0.585},{"T":-95,"nm":396,"A":0.686},{"T":-95,"nm":408,"A":0.8},{"T":-95,"nm":420,"A":0.89},{"T":-95,"nm":432,"A":0.98},{"T":-95,"nm":444,"A":1.06},{"T":-95,"nm":455,"A":1.1},{"T":-95,"nm":465,"A":1.13},{"T":-95,"nm":475,"A":1.147},{"T":-95,"nm":485,"A":1.14},{"T":-95,"nm":495,"A":1.085},{"T":-95,"nm":505,"A":1.015},{"T":-95,"nm":518,"A":0.91},{"T":-95,"nm":530,"A":0.83},{"T":-95,"nm":545,"A":0.775},{"T":-95,"nm":560,"A":0.758},{"T":-95,"nm":580,"A":0.725},{"T":-95,"nm":600,"A":0.7},{"T":-95,"nm":615,"A":0.662},{"T":-95,"nm":628,"A":0.645},{"T":-95,"nm":637,"A":0.63},{"T":-95,"nm":650,"A":0.59},{"T":-95,"nm":663,"A":0.56},{"T":-95,"nm":676,"A":0.548},{"T":-95,"nm":690,"A":0.59},{"T":-95,"nm":707,"A":0.627},{"T":-95,"nm":725,"A":0.61},{"T":-95,"nm":745,"A":0.552},{"T":-95,"nm":763,"A":0.535},{"T":-95,"nm":780,"A":0.516},{"T":-95,"nm":800,"A":0.45},{"T":-95,"nm":825,"A":0.365},{"T":-95,"nm":850,"A":0.29},{"T":-95,"nm":875,"A":0.225},{"T":-95,"nm":900,"A":0.177}
]
},
"hconcat":[
{
 "width":413,"height":441,
 "data":{"name":"L"},
 "layer":[
  {"mark":{"type":"line","strokeWidth":2,"interpolate":"monotone"},
   "encoding":{
    "x":{"field":"nm","type":"quantitative","scale":{"domain":[300,900],"nice":false,"zero":false},"axis":{"values":[300,400,500,600,700,800,900],"title":"Wellenlänge λ [nm]","tickSize":7,"labelPadding":10,"titlePadding":11,"labelFont":"Liberation Serif","titleFont":"Liberation Serif"}},
    "y":{"field":"A","type":"quantitative","scale":{"domain":[0.1,2.5],"nice":false,"zero":false},"axis":{"values":[0.4,0.8,1.2,1.6,2.0,2.4],"format":".1f","title":"Absorption","tickSize":7,"labelPadding":8,"titlePadding":8,"labelFont":"Liberation Serif","titleFont":"Liberation Serif"}},
    "color":{"field":"T","type":"nominal","scale":{"domain":[25,15,5,-5,-15,-25,-35,-45,-55,-65,-75,-85,-95],"range":["#0000ff","#1515ea","#2b2bd5","#4040c0","#5555aa","#6b6b95","#808080","#95956b","#aaaa55","#c0c040","#d5d52b","#eaea15","#ffff00"]},"legend":{"labelExpr":"datum.label + ' °C'","labelFont":"Liberation Serif"}}
   }},
  {"mark":{"type":"line","opacity":0},
   "encoding":{
    "x":{"field":"nm","type":"quantitative","scale":{"domain":[300,900],"nice":false,"zero":false},"axis":{"orient":"bottom","values":[350,450,550,650,750,850],"labels":false,"domain":false,"tickSize":4,"title":null}},
    "y":{"field":"A","type":"quantitative","scale":{"domain":[0.1,2.5],"nice":false,"zero":false},"axis":{"orient":"left","values":[0.2,0.6,1.0,1.4,1.8,2.2],"labels":false,"domain":false,"tickSize":4,"title":null}},
    "detail":{"field":"T","type":"nominal"}
   }}
 ],
 "resolve":{"axis":{"x":"independent","y":"independent"}}
},
{
 "width":413,"height":441,
 "data":{"name":"R"},
 "layer":[
  {"mark":{"type":"line","strokeWidth":2,"interpolate":"monotone"},
   "encoding":{
    "x":{"field":"nm","type":"quantitative","scale":{"domain":[300,900],"nice":false,"zero":false},"axis":{"values":[300,400,500,600,700,800,900],"title":"Wellenlänge λ [nm]","tickSize":7,"labelPadding":10,"titlePadding":11,"labelFont":"Liberation Serif","titleFont":"Liberation Serif"}},
    "y":{"field":"A","type":"quantitative","scale":{"domain":[0.1,1.2],"nice":false,"zero":false},"axis":{"values":[0.2,0.4,0.6,0.8,1.0,1.2],"format":".1f","title":null,"tickSize":7,"labelPadding":8,"labelFont":"Liberation Serif"}},
    "color":{"field":"T","type":"nominal","scale":{"domain":[25,15,5,-5,-15,-25,-35,-45,-55,-65,-75,-85,-95],"range":["#0000ff","#1515ea","#2b2bd5","#4040c0","#5555aa","#6b6b95","#808080","#95956b","#aaaa55","#c0c040","#d5d52b","#eaea15","#ffff00"]},"legend":{"labelExpr":"datum.label + ' °C'","labelFont":"Liberation Serif"}}
   }},
  {"mark":{"type":"line","opacity":0},
   "encoding":{
    "x":{"field":"nm","type":"quantitative","scale":{"domain":[300,900],"nice":false,"zero":false},"axis":{"orient":"bottom","values":[350,450,550,650,750,850],"labels":false,"domain":false,"tickSize":4,"title":null}},
    "y":{"field":"A","type":"quantitative","scale":{"domain":[0.1,1.2],"nice":false,"zero":false},"axis":{"orient":"left","values":[0.3,0.5,0.7,0.9,1.1],"labels":false,"domain":false,"tickSize":4,"title":null}},
    "detail":{"field":"T","type":"nominal"}
   }}
 ],
 "resolve":{"axis":{"x":"independent","y":"independent"}}
}
],
"resolve":{"scale":{"color":"shared"}}
}
